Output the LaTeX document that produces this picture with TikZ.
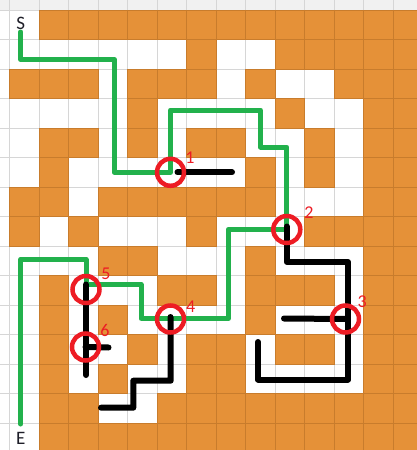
\documentclass[tikz,border=0pt]{standalone}
\usepackage{fontspec}
\setmainfont{Carlito}
\definecolor{cellorange}{RGB}{229,145,56}
\definecolor{cellline}{RGB}{200,124,44}
\definecolor{gridgray}{RGB}{214,214,214}
\definecolor{headgray}{RGB}{241,241,241}
\definecolor{pathgreen}{RGB}{34,177,76}
\definecolor{markred}{RGB}{237,28,36}
\definecolor{textdark}{RGB}{30,30,40}
\tikzset{
  greenpath/.style={draw=pathgreen,line width=5pt,line join=round,line cap=round},
  blackpath/.style={draw=black,line width=6pt,line join=round,line cap=round},
  marker/.style={circle,draw=markred,line width=4.5pt,minimum size=27pt,inner sep=0pt},
  numlabel/.style={text=markred,font=\fontsize{18}{18}\selectfont,inner sep=0pt},
  endlabel/.style={text=textdark,font=\fontsize{19}{19}\selectfont,inner sep=0pt},
  orangecell/.style={fill=cellorange,draw=cellline,line width=0.8pt}
}
\begin{document}
\begin{tikzpicture}[x=1pt,y=-1pt]
\useasboundingbox (0,0) rectangle (417,450);
\fill[white] (0,0) rectangle (417,450);
\fill[headgray] (0,0) rectangle (417,10);
% grid lines
\foreach \k in {0,...,14} \draw[gridgray,line width=0.8pt] ({9.5+29.5*\k},0) -- ({9.5+29.5*\k},450);
\foreach \k in {0,...,15} \draw[gridgray,line width=0.8pt] (0,{10+29.5*\k}) -- (417,{10+29.5*\k});
% orange cells
\foreach \r/\cols in {
  0/{1,2,3,4,5,6,7,8,9,10,11,12,13},
  1/{6,9,10,11,12,13},
  2/{0,1,2,4,5,6,8,11,12,13},
  3/{4,9,12,13},
  4/{1,2,4,6,7,10,12,13},
  5/{1,8,10,12,13},
  6/{0,1,3,4,5,6,7,8,12,13},
  7/{0,2,6,10,11,12,13},
  8/{3,4,8,12,13},
  9/{1,5,6,8,9,10,12,13},
  10/{1,3,8,12,13},
  11/{1,4,6,7,9,10,12,13},
  12/{1,3,6,7,12,13},
  13/{1,2,5,6,7,8,9,10,11,12,13},
  14/{1,2,3,4,5,6,7,8,9,10,11,12,13}}{
  \foreach \c in \cols {
    \path[orangecell] ({9.5+29.5*\c},{10+29.5*\r}) rectangle ++(29.5,29.5);
  }
}
% start / end
\node[endlabel] (S) at (20.7,23.5) {S};
\node[endlabel] (E) at (20.7,438) {E};
\coordinate (sA) at (20.7,32);
\coordinate (eA) at (20.7,424);
% marker positions
\coordinate (p1) at (170.5,172.3);
\coordinate (p2) at (286.8,229.5);
\coordinate (p3) at (345.5,319);
\coordinate (p4) at (170.5,319);
\coordinate (p5) at (86,289.5);
\coordinate (p6) at (85.5,347);
% green route
\draw[greenpath] (sA) -- (20.7,59.5) -- (114.3,59.5) -- (114.3,172.3) -- (p1)
  -- (170.5,110) -- (260.3,110) -- (260.3,147) -- (286.8,147) -- (p2)
  -- (228.3,229.5) -- (228.3,318.3) -- (141,318.3) -- (141,284.5) -- (86,284.5)
  -- (86,259.3) -- (20.7,259.3) -- (eA);
% black dead ends
\coordinate (b1) at (232,172.3);
\draw[blackpath] ([xshift=7pt]p1) -- (b1);
\coordinate (b2) at (258,342);
\draw[blackpath] ([yshift=3pt]p2) -- (286.8,262) -- (348,262) -- (348,379.5) -- (258,379.5) -- (b2);
\coordinate (b3) at (284,318.5);
\draw[blackpath] (b3) -- (p3);
\coordinate (b4) at (101,407.7);
\draw[blackpath] ([yshift=2pt]p4) -- (170.7,380.7) -- (133.3,380.7) -- (133.3,407.7) -- (b4);
\coordinate (b5) at (86,375);
\draw[blackpath] ([yshift=5pt]p5) -- (b5);
\coordinate (b6) at (108.5,347.5);
\draw[blackpath] (p6) -- (b6);
% markers
\node[marker] (n1) at (p1) {};
\node[marker] (n2) at (p2) {};
\node[marker] (n3) at (p3) {};
\node[marker] (n4) at (p4) {};
\node[marker] (n5) at (p5) {};
\node[marker] (n6) at (p6) {};
% labels
\node[numlabel] (l1) at (190,157.5) {1};
\node[numlabel] (l2) at (309,213) {2};
\node[numlabel] (l3) at (362.3,302) {3};
\node[numlabel] (l4) at (190.7,306.7) {4};
\node[numlabel] (l5) at (106,273.3) {5};
\node[numlabel] (l6) at (105,330) {6};
\end{tikzpicture}
\end{document}
